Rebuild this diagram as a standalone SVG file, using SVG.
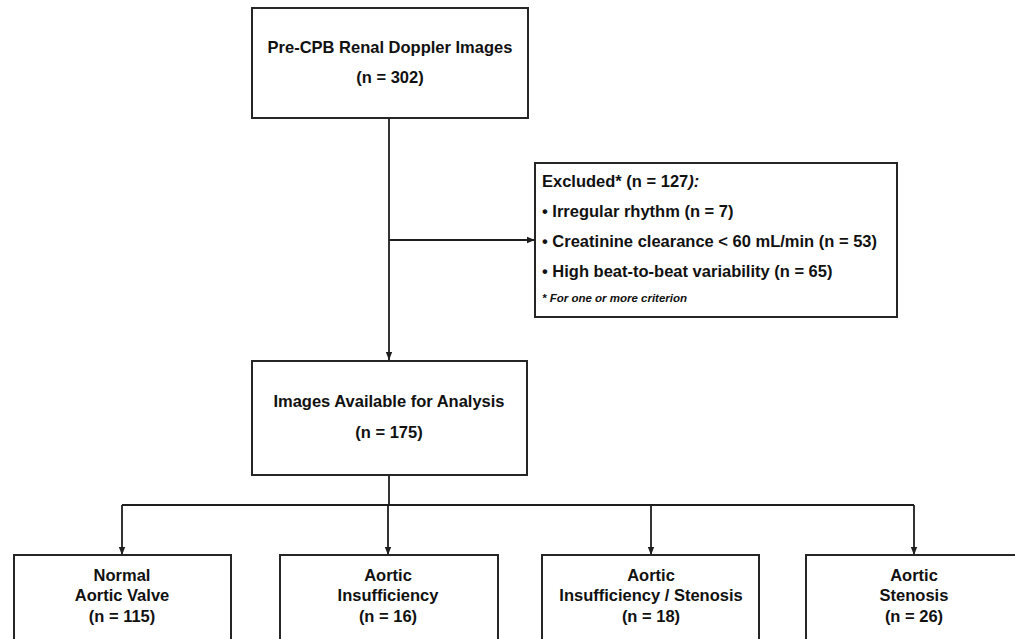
<svg xmlns="http://www.w3.org/2000/svg" width="1015" height="639" viewBox="0 0 1015 639">
<defs>
<marker id="arr" viewBox="0 0 8 8" refX="8" refY="4" markerWidth="8" markerHeight="8" markerUnits="userSpaceOnUse" orient="auto">
<path d="M0,0.8 L8,4 L0,7.2 Z" fill="#1e1e1e"/>
</marker>
<style>
.box{fill:#fff;stroke:#262626;stroke-width:2}
.ln{fill:none;stroke:#1e1e1e;stroke-width:1.8}
text{font-family:"Liberation Sans",Arial,sans-serif;font-weight:bold;font-size:16.5px;fill:#111}
.c{text-anchor:middle}
.fn{font-size:11.5px;font-style:italic}
</style>
</defs>
<rect width="1015" height="639" fill="#fff"/>
<g id="connectors">
<path class="ln" d="M389,118 V360" marker-end="url(#arr)"/>
<path class="ln" d="M389,240 H535" marker-end="url(#arr)"/>
<path class="ln" d="M389,475 V505"/>
<path class="ln" d="M122,505 H914"/>
<path class="ln" d="M122,505 V555" marker-end="url(#arr)"/>
<path class="ln" d="M388,505 V555" marker-end="url(#arr)"/>
<path class="ln" d="M651,505 V555" marker-end="url(#arr)"/>
<path class="ln" d="M914,505 V555" marker-end="url(#arr)"/>
</g>
<g id="node-precpb">
<rect class="box" x="252" y="8" width="276" height="110"/>
<text class="c" x="390" y="53">Pre-CPB Renal Doppler Images</text>
<text class="c" x="390" y="83">(n = 302)</text>
</g>
<g id="node-excluded">
<rect class="box" x="535" y="163" width="362" height="154"/>
<text x="542" y="187">Excluded* (n = 127<tspan font-style="italic">):</tspan></text>
<text x="542" y="217">• Irregular rhythm (n = 7)</text>
<text x="542" y="247">• Creatinine clearance &lt; 60 mL/min (n = 53)</text>
<text x="542" y="277">• High beat-to-beat variability (n = 65)</text>
<text class="fn" x="542" y="302">* For one or more criterion</text>
</g>
<g id="node-available">
<rect class="box" x="252" y="361" width="275" height="114"/>
<text class="c" x="389" y="407">Images Available for Analysis</text>
<text class="c" x="389" y="438">(n = 175)</text>
</g>
<g id="node-normal">
<rect class="box" x="14" y="555" width="217" height="95"/>
<text class="c" x="122" y="581">Normal</text>
<text class="c" x="122" y="601">Aortic Valve</text>
<text class="c" x="122" y="622">(n = 115)</text>
</g>
<g id="node-ai">
<rect class="box" x="280" y="555" width="218" height="95"/>
<text class="c" x="388" y="581">Aortic</text>
<text class="c" x="388" y="601">Insufficiency</text>
<text class="c" x="388" y="622">(n = 16)</text>
</g>
<g id="node-ais">
<rect class="box" x="542" y="555" width="217" height="95"/>
<text class="c" x="651" y="581">Aortic</text>
<text class="c" x="651" y="601">Insufficiency / Stenosis</text>
<text class="c" x="651" y="622">(n = 18)</text>
</g>
<g id="node-as">
<rect class="box" x="806" y="555" width="217" height="95"/>
<text class="c" x="914" y="581">Aortic</text>
<text class="c" x="914" y="601">Stenosis</text>
<text class="c" x="914" y="622">(n = 26)</text>
</g>
</svg>
